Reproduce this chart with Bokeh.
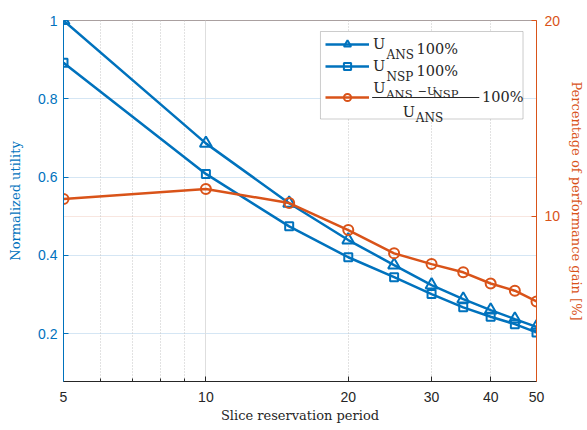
from bokeh.plotting import figure
from bokeh.models import (Range1d, LinearAxis, FixedTicker, Legend, LegendItem,
                          Label, BoxAnnotation, Grid, ColumnDataSource, LinearScale)
from bokeh.embed import file_html
from bokeh.resources import INLINE

# ---------------- data ----------------
period = [5, 10, 15, 20, 25, 30, 35, 40, 45, 50]
u_ans = [1.0, 0.686, 0.533, 0.439, 0.375, 0.324, 0.288, 0.260, 0.237, 0.217]
u_nsp = [0.892, 0.608, 0.474, 0.395, 0.344, 0.301, 0.267, 0.243, 0.224, 0.203]
gain = [10.88, 11.39, 10.67, 9.29, 8.10, 7.55, 7.13, 6.56, 6.19, 5.64]

x_ticks = [5, 10, 20, 30, 40, 50]
x_tick_labels = ["5", "10", "20", "30", "40", "50"]
x_minor = [6, 7, 8, 9, 20, 30, 40]
left_ticks = [0.2, 0.4, 0.6, 0.8, 1.0]
left_tick_labels = ["0.2", "0.4", "0.6", "0.8", "1"]
right_ticks = [10, 20]
right_tick_labels = ["10", "20"]

BLUE = "#0072BD"
ORANGE = "#D95319"
DARK = "#262626"
SANS = "Liberation Sans"
SERIF = "DejaVu Serif"

W, H = 587, 430
L, R, T, B = 63, 50, 20, 49
FW, FH = W - L - R, H - T - B

p = figure(width=W, height=H, x_axis_type="log", x_range=Range1d(5, 50),
           y_range=Range1d(0.0775, 1.0), output_backend="svg", toolbar_location=None,
           min_border_left=L, min_border_right=R, min_border_top=T, min_border_bottom=B)
p.outline_line_color = "#aaa0a0"
p.outline_line_width = 1
p.background_fill_color = "white"
p.border_fill_color = "white"

p.extra_y_ranges = {"right": Range1d(1.55, 20.0), "ly": Range1d(FH, 0)}
p.extra_x_ranges = {"lx": Range1d(0, FW)}
p.extra_x_scales = {"lx": LinearScale()}
p.extra_y_scales = {"right": LinearScale(), "ly": LinearScale()}

# ---------------- grids ----------------
p.xgrid.visible = False
p.ygrid.visible = False
p.add_layout(Grid(dimension=1, ticker=FixedTicker(ticks=left_ticks[:-1]),
                  grid_line_color="#d5e6f4", grid_line_width=1))
p.add_layout(Grid(dimension=1, ticker=FixedTicker(ticks=[10]), y_range_name="right",
                  grid_line_color="#f8e6e0", grid_line_width=1))
p.add_layout(Grid(dimension=0, ticker=FixedTicker(ticks=[10]),
                  grid_line_color="#dedede", grid_line_width=1))
p.add_layout(Grid(dimension=0, ticker=FixedTicker(ticks=x_minor),
                  grid_line_color="#c4c4c4", grid_line_width=1, grid_line_dash="1 2"))

# ---------------- axes ----------------
xa = p.xaxis[0]
xa.ticker = FixedTicker(ticks=x_ticks, minor_ticks=x_minor)
xa.major_label_overrides = dict(zip(x_ticks, x_tick_labels))
xa.axis_label = "Slice reservation period"
xa.axis_line_color = DARK
xa.major_tick_line_color = DARK
xa.minor_tick_line_color = DARK
xa.major_tick_in = 5
xa.major_tick_out = 0
xa.minor_tick_in = 3
xa.minor_tick_out = 0
xa.major_label_text_font = SANS
xa.major_label_text_font_size = "14px"
xa.major_label_text_color = DARK
xa.major_label_standoff = 10
xa.axis_label_text_font = SERIF
xa.axis_label_text_font_size = "13px"
xa.axis_label_text_font_style = "normal"
xa.axis_label_text_color = DARK
xa.axis_label_standoff = 3

ya = p.yaxis[0]
ya.ticker = FixedTicker(ticks=left_ticks)
ya.major_label_overrides = dict(zip(left_ticks, left_tick_labels))
ya.axis_label = "Normalized utility"
ya.axis_line_color = BLUE
ya.major_tick_line_color = BLUE
ya.minor_tick_line_color = None
ya.major_tick_in = 5
ya.major_tick_out = 0
ya.major_label_text_font = SANS
ya.major_label_text_font_size = "14px"
ya.major_label_text_color = BLUE
ya.major_label_standoff = 6
ya.axis_label_text_font = SERIF
ya.axis_label_text_font_size = "13px"
ya.axis_label_text_font_style = "normal"
ya.axis_label_text_color = BLUE
ya.axis_label_standoff = 12

ra = LinearAxis(y_range_name="right", ticker=FixedTicker(ticks=right_ticks),
                major_label_overrides=dict(zip(right_ticks, right_tick_labels)),
                axis_label="Percentage of performance gain [%]")
ra.axis_line_color = ORANGE
ra.major_tick_line_color = ORANGE
ra.minor_tick_line_color = None
ra.major_tick_in = 5
ra.major_tick_out = 0
ra.major_label_text_font = SANS
ra.major_label_text_font_size = "14px"
ra.major_label_text_color = ORANGE
ra.major_label_standoff = 8
ra.axis_label_text_font = SERIF
ra.axis_label_text_font_size = "13px"
ra.axis_label_text_font_style = "normal"
ra.axis_label_text_color = ORANGE
ra.axis_label_standoff = 6
p.add_layout(ra, "right")

# ---------------- series ----------------
src = ColumnDataSource(dict(period=period, u_ans=u_ans, u_nsp=u_nsp, gain=gain))

l1 = p.line("period", "u_ans", source=src, line_color=BLUE, line_width=2.5)
m1 = p.scatter("period", "u_ans", source=src, marker="triangle", size=12,
               line_color=BLUE, line_width=2, fill_alpha=0)
l2 = p.line("period", "u_nsp", source=src, line_color=BLUE, line_width=2.5)
m2 = p.scatter("period", "u_nsp", source=src, marker="square", size=8,
               line_color=BLUE, line_width=2, fill_alpha=0)
l3 = p.line("period", "gain", source=src, y_range_name="right", line_color=ORANGE, line_width=2.5)
m3 = p.scatter("period", "gain", source=src, y_range_name="right", marker="circle", size=10,
               line_color=ORANGE, line_width=2, fill_alpha=0)

# ---------------- legend ----------------
def px(x):
    return x - L


def py(y):
    return y - T


MAIN, SUB = 14.5, 12

p.add_layout(BoxAnnotation(left=px(320.5), right=px(523.5), top=py(31), bottom=py(118.5),
                           x_range_name="lx", y_range_name="ly",
                           fill_color="white", fill_alpha=1, line_color="#555555",
                           line_width=1))

GH = 18
for rs, lab, stand, cy in (([l1, m1], "U", 4, 43.5), ([l2, m2], "U", 4, 65.8),
                           ([l3, m3], "100%", 113, 97)):
    lg = Legend(items=[LegendItem(label=lab, renderers=rs)],
                location=(int(round(px(324.7))), int(round((H - B) - cy - GH / 2))),
                border_line_alpha=0, background_fill_alpha=0, padding=0, margin=0,
                spacing=0, glyph_width=44, glyph_height=GH, label_width=0,
                label_height=GH, label_standoff=stand, label_text_font=SERIF,
                label_text_font_size=f"{MAIN}px", label_text_color=DARK)
    p.add_layout(lg)


def txt(x, y, s, size, color=DARK):
    p.add_layout(Label(x=px(x), y=py(y), text=s, x_range_name="lx", y_range_name="ly",
                       text_font=SERIF, text_font_size=f"{size}px", text_color=color,
                       text_baseline="alphabetic", text_align="left"))


txt(386.7, 54, "ANS", SUB)
txt(416.7, 48.5, "100%", MAIN)
txt(386.7, 76, "NSP", SUB)
txt(416.7, 70.5, "100%", MAIN)
txt(373.5, 87, "U", MAIN)
txt(386.5, 93.5, "ANS", 11.5)
txt(418, 90.5, "\u2212U", 11)
txt(433, 93.5, "NSP", 11.5)
p.add_layout(BoxAnnotation(left=px(372.3), right=px(479.7), top=py(96.6), bottom=py(97.6),
                           x_range_name="lx", y_range_name="ly",
                           fill_color=DARK, fill_alpha=1, line_alpha=0))
txt(403, 111.5, "U", MAIN)
txt(416, 117.5, "ANS", SUB)

open("out.html", "w").write(file_html(p, INLINE))
